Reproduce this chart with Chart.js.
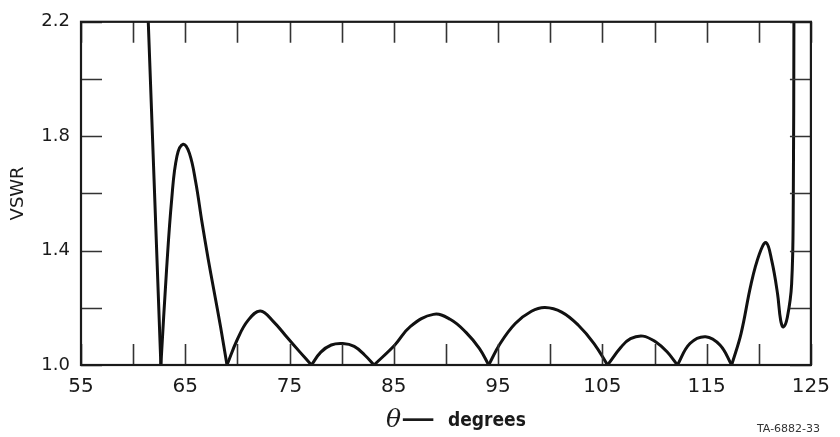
<!DOCTYPE html>
<html>
<head>
<meta charset="utf-8">
<script src="https://cdn.jsdelivr.net/npm/chart.js@4/dist/chart.umd.min.js"></script>
<style>
  html, body { margin: 0; padding: 0; background: #fff; }
  #wrap { position: relative; width: 840px; height: 437px; }
</style>
</head>
<body>
<div id="wrap"><canvas id="c"></canvas></div>
<script>
// ---- data (theta in degrees, VSWR) ----
const thetaDeg = [
  61.35, 62.66,
  63.2, 63.7, 64.2, 64.8, 65.4, 66.0, 66.6, 67.2, 67.7, 68.4, 69.0,
  70.0, 71.0, 72.2, 73.5, 74.8, 76.0, 77.1,
  78.0, 79.0, 80.1, 81.2, 82.2, 83.1,
  85.1, 86.6, 88.8, 90.4, 91.9, 93.2, 94.1,
  95.2, 96.65, 98.2, 99.5, 101.1, 102.7, 104.2, 105.5,
  106.8, 107.7, 108.9, 110.1, 111.2, 112.2,
  113.4, 114.9, 116.3, 117.4,
  118.3, 119.26, 120.05, 120.7, 121.25, 121.8, 122.1, 122.36, 122.74, 123.15, 123.31, 123.37, 123.4
];
const vswr = [
  2.3, 1.0,
  1.33, 1.58, 1.73, 1.772, 1.74, 1.64, 1.50, 1.37, 1.27, 1.13, 1.0,
  1.09, 1.155, 1.189, 1.15, 1.095, 1.045, 1.0,
  1.045, 1.07, 1.075, 1.065, 1.035, 1.0,
  1.07, 1.135, 1.177, 1.16, 1.115, 1.058, 1.0,
  1.075, 1.145, 1.188, 1.201, 1.185, 1.139, 1.075, 1.0,
  1.063, 1.092, 1.101, 1.081, 1.046, 1.0,
  1.075, 1.099, 1.069, 1.0,
  1.110, 1.283, 1.387, 1.428, 1.364, 1.249, 1.156, 1.133, 1.167, 1.283, 1.572, 2.2, 2.3
];
const xTickLabels = ['55', '65', '75', '85', '95', '105', '115', '125'];
const yTickLabels = ['1.0', '1.4', '1.8', '2.2'];
const xTitleSymbol = 'θ';
const xTitleDash = '—';
const xTitleText = 'degrees';
const yTitleText = 'VSWR';
const figureNote = 'TA-6882-33';

// ---- split the curve at its cusps (VSWR = 1.0) into separate line pieces ----
const pieces = [];
let cur = [];
for (let i = 0; i < thetaDeg.length; i++) {
  cur.push({ x: thetaDeg[i], y: vswr[i] });
  if (vswr[i] === 1.0 && i !== thetaDeg.length - 1) {
    pieces.push(cur);
    cur = [{ x: thetaDeg[i], y: vswr[i] }];
  }
}
if (cur.length > 1) pieces.push(cur);

const datasets = pieces.map(p => ({
  data: p,
  borderColor: '#111',
  borderWidth: 3,
  pointRadius: 0,
  fill: false,
  tension: 0.4,
  clip: 0,
  borderCapStyle: 'round',
  borderJoinStyle: 'round'
}));

const FONT = '"DejaVu Sans", "Liberation Sans", sans-serif';
const INK = '#1a1a1a';

const frameAndTicks = {
  id: 'frameAndTicks',
  afterDatasetsDraw(chart) {
    const { ctx, chartArea: { left, right, top, bottom }, scales: { x, y } } = chart;
    const TL = 21;
    ctx.save();
    ctx.strokeStyle = '#333';
    ctx.lineWidth = 1.6;
    ctx.beginPath();
    x.ticks.forEach(t => {
      const px = Math.round(x.getPixelForValue(t.value)) + 0.5;
      ctx.moveTo(px, bottom); ctx.lineTo(px, bottom - TL);
      ctx.moveTo(px, top); ctx.lineTo(px, top + TL);
    });
    y.ticks.forEach(t => {
      const py = Math.round(y.getPixelForValue(t.value)) + 0.5;
      ctx.moveTo(left, py); ctx.lineTo(left + TL, py);
      ctx.moveTo(right, py); ctx.lineTo(right - TL, py);
    });
    ctx.stroke();
    ctx.strokeStyle = INK;
    ctx.lineWidth = 2.2;
    ctx.strokeRect(left, top, right - left, bottom - top);

    // x-axis title: italic theta, long dash, "degrees"
    ctx.fillStyle = INK;
    ctx.textBaseline = 'alphabetic';
    ctx.textAlign = 'left';
    ctx.font = 'italic 25px "DejaVu Serif", "Liberation Serif", serif';
    ctx.fillText(xTitleSymbol, 386, 427);
    ctx.save();
    ctx.translate(401, 426);
    ctx.scale(1.8, 1.1);
    ctx.font = 'bold 19px ' + FONT;
    ctx.fillText(xTitleDash, 0, 0);
    ctx.restore();
    ctx.font = 'bold 19px "DejaVu Sans Condensed", ' + FONT;
    ctx.fillText(xTitleText, 448, 426);

    // figure note
    ctx.font = '11px ' + FONT;
    ctx.fillStyle = '#333';
    ctx.fillText(figureNote, 757, 432);
    ctx.restore();
  }
};

new Chart(document.getElementById('c'), {
  type: 'line',
  data: { datasets },
  options: {
    responsive: true,
    maintainAspectRatio: false,
    animation: false,
    layout: { padding: { top: 19, right: 21, left: 0, bottom: 0 } },
    plugins: { legend: { display: false }, tooltip: { enabled: false } },
    scales: {
      x: {
        type: 'linear',
        min: 55, max: 125,
        grid: { display: false, drawTicks: false },
        border: { display: false },
        ticks: {
          stepSize: 5,
          autoSkip: false,
          maxRotation: 0,
          padding: 10,
          color: INK,
          font: { family: FONT, size: 20 },
          callback: (v) => {
            const s = String(v);
            return xTickLabels.includes(s) ? s : '';
          }
        },
        afterFit: (s) => { s.height = 72; }
      },
      y: {
        type: 'linear',
        min: 1.0, max: 2.2,
        grid: { display: false, drawTicks: false },
        border: { display: false },
        title: {
          display: true,
          text: yTitleText,
          color: INK,
          font: { family: FONT, size: 18 },
          padding: { top: 8, bottom: 0 }
        },
        ticks: {
          stepSize: 0.2,
          autoSkip: false,
          padding: 11,
          color: INK,
          font: { family: FONT, size: 18 },
          callback: (v) => {
            const s = Number(v).toFixed(1);
            return yTickLabels.includes(s) ? s : '';
          }
        },
        afterFit: (s) => { s.width = 81; }
      }
    }
  },
  plugins: [frameAndTicks]
});
</script>
</body>
</html>
